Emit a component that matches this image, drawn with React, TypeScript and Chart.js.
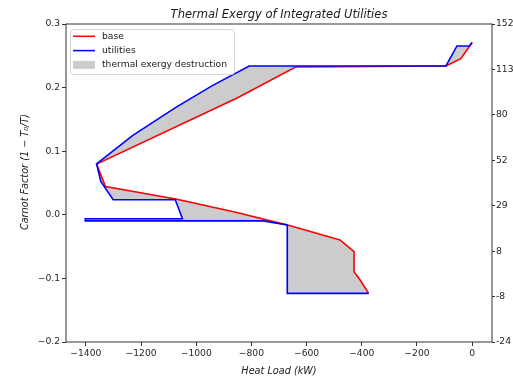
import React, { useEffect, useRef } from 'react';
import { Chart, registerables } from 'chart.js';

Chart.register(...registerables);

// ---- data ----
const TITLE = 'Thermal Exergy of Integrated Utilities';
const X_LABEL = 'Heat Load (kW)';
const Y_LABEL = 'Carnot Factor (1 − T₀/T)';
const legendLabels = ['base', 'utilities', 'thermal exergy destruction'];

const baseX = [0, -41, -95, -640, -850, -1361, -1329, -1074, -853, -672, -479, -428, -428, -406, -375];
const baseY = [0.271, 0.2456, 0.234, 0.2325, 0.184, 0.0797, 0.0446, 0.0248, 0.0036, -0.0158, -0.0394, -0.0579, -0.0894, -0.1025, -0.1235];

const utilX = [0, -10, -55, -95, -808, -940, -1074, -1231, -1361, -1346, -1301, -1076, -1050, -1402, -1402, -758, -670, -670, -375];
const utilY = [0.271, 0.2655, 0.2655, 0.234, 0.234, 0.2035, 0.169, 0.1246, 0.08, 0.0525, 0.0237, 0.0237, -0.0063, -0.0063, -0.0095, -0.0095, -0.0158, -0.1235, -0.1235];

const xTickValues = [-1400, -1200, -1000, -800, -600, -400, -200, 0];
const xTickLabels = ['−1400', '−1200', '−1000', '−800', '−600', '−400', '−200', '0'];
const yTickValues = [-0.2, -0.1, 0, 0.1, 0.2, 0.3];
const yTickLabels = ['−0.2', '−0.1', '0.0', '0.1', '0.2', '0.3'];
const rightTickLabels = ['-24', '-8', '8', '29', '52', '80', '113', '152'];

const X_MIN = -1472;
const X_MAX = 72;
const Y_MIN = -0.2;
const Y_MAX = 0.3;

const RED = '#ff0000';
const BLUE = '#0000ff';
const GREY = '#cccccc';
const FONT = '"DejaVu Sans", sans-serif';

const toPts = (xs: number[], ys: number[]) => xs.map((x, i) => ({ x, y: ys[i] }));

const decorPlugin = {
  id: 'decor',
  afterDraw(chart: any) {
    const { ctx, chartArea: a } = chart;
    ctx.save();
    // frame
    ctx.strokeStyle = '#333333';
    ctx.lineWidth = 1;
    ctx.strokeRect(a.left, a.top, a.right - a.left, a.bottom - a.top);

    const cx = (a.left + a.right) / 2;
    ctx.fillStyle = '#1a1a1a';
    ctx.textAlign = 'center';
    ctx.textBaseline = 'middle';
    ctx.font = `italic 11.5px ${FONT}`;
    ctx.fillText(TITLE, cx, a.top - 9);
    ctx.font = `italic 9.7px ${FONT}`;
    ctx.fillText(X_LABEL, cx, a.bottom + 29);
    ctx.save();
    ctx.translate(a.left - 41, (a.top + a.bottom) / 2 - 11);
    ctx.rotate(-Math.PI / 2);
    ctx.fillText(Y_LABEL, 0, 0);
    ctx.restore();

    // legend
    const lx = a.left + 4;
    const ly = a.top + 5;
    const lw = 164;
    const lh = 45;
    ctx.beginPath();
    if ((ctx as any).roundRect) (ctx as any).roundRect(lx + 0.5, ly + 0.5, lw, lh, 3);
    else ctx.rect(lx + 0.5, ly + 0.5, lw, lh);
    ctx.fillStyle = 'rgba(255,255,255,0.8)';
    ctx.fill();
    ctx.strokeStyle = '#d6d6d6';
    ctx.lineWidth = 1;
    ctx.stroke();

    const rows = [ly + 7.3, ly + 21.6, ly + 35.9];
    const hx0 = lx + 3;
    const hx1 = lx + 25;
    ctx.lineWidth = 1.5;
    ctx.strokeStyle = RED;
    ctx.beginPath();
    ctx.moveTo(hx0, rows[0]);
    ctx.lineTo(hx1, rows[0]);
    ctx.stroke();
    ctx.strokeStyle = BLUE;
    ctx.beginPath();
    ctx.moveTo(hx0, rows[1]);
    ctx.lineTo(hx1, rows[1]);
    ctx.stroke();
    ctx.fillStyle = GREY;
    ctx.fillRect(hx0, rows[2] - 4, hx1 - hx0, 8);

    ctx.fillStyle = '#1a1a1a';
    ctx.textAlign = 'left';
    ctx.textBaseline = 'middle';
    ctx.font = `9.2px ${FONT}`;
    legendLabels.forEach((t, i) => ctx.fillText(t, lx + 32, rows[i]));
    ctx.restore();
  },
};

export default function App() {
  const ref = useRef<HTMLCanvasElement | null>(null);

  useEffect(() => {
    if (!ref.current) return;
    Chart.defaults.font.family = FONT;
    const tickColor = '#262626';
    const fillPts = [...toPts(utilX, utilY), ...toPts(baseX, baseY).reverse()];
    const chart = new Chart(ref.current, {
      type: 'line',
      data: {
        datasets: [
          {
            label: 'utilities',
            data: toPts(utilX, utilY),
            borderColor: BLUE,
            borderWidth: 1.6,
            pointRadius: 0,
            fill: false,
            tension: 0,
          },
          {
            label: 'base',
            data: toPts(baseX, baseY),
            borderColor: RED,
            borderWidth: 1.6,
            pointRadius: 0,
            fill: false,
            tension: 0,
          },
          {
            label: 'thermal exergy destruction',
            data: fillPts,
            borderWidth: 0,
            borderColor: 'rgba(0,0,0,0)',
            backgroundColor: GREY,
            pointRadius: 0,
            fill: 'shape',
            tension: 0,
          },
        ],
      },
      options: {
        animation: false,
        responsive: false,
        devicePixelRatio: 1,
        layout: { padding: { top: 24, left: 0, right: 0, bottom: 0 } },
        plugins: { legend: { display: false }, tooltip: { enabled: false }, title: { display: false } },
        scales: {
          x: {
            type: 'linear',
            min: X_MIN,
            max: X_MAX,
            afterBuildTicks: (s: any) => {
              s.ticks = xTickValues.map((v) => ({ value: v }));
            },
            afterFit: (s: any) => {
              s.height = 39;
            },
            ticks: {
              color: tickColor,
              font: { size: 9.2, family: FONT },
              padding: 2,
              maxRotation: 0,
              autoSkip: false,
              callback: (_v: any, i: number) => xTickLabels[i],
            },
            grid: { drawOnChartArea: false, drawTicks: true, tickLength: 4, color: '#333333' },
            border: { display: false },
          },
          y: {
            type: 'linear',
            position: 'left',
            min: Y_MIN,
            max: Y_MAX,
            afterBuildTicks: (s: any) => {
              s.ticks = yTickValues.map((v) => ({ value: v }));
            },
            afterFit: (s: any) => {
              s.width = 66;
            },
            ticks: {
              color: tickColor,
              font: { size: 9.2, family: FONT },
              padding: 2,
              autoSkip: false,
              callback: (_v: any, i: number) => yTickLabels[i],
            },
            grid: { drawOnChartArea: false, drawTicks: true, tickLength: 4, color: '#333333' },
            border: { display: false },
          },
          y2: {
            type: 'linear',
            position: 'right',
            min: Y_MIN,
            max: Y_MAX,
            afterBuildTicks: (s: any) => {
              const n = rightTickLabels.length;
              s.ticks = rightTickLabels.map((_, i) => ({ value: Y_MIN + ((Y_MAX - Y_MIN) * i) / (n - 1) }));
            },
            afterFit: (s: any) => {
              s.width = 21;
            },
            ticks: {
              color: tickColor,
              font: { size: 9.2, family: FONT },
              padding: 1,
              autoSkip: false,
              callback: (_v: any, i: number) => rightTickLabels[i],
            },
            grid: { drawOnChartArea: false, drawTicks: true, tickLength: 3, color: '#333333' },
            border: { display: false },
          },
        },
      },
      plugins: [decorPlugin],
    } as any);
    return () => chart.destroy();
  }, []);

  return (
    <div style={{ position: 'absolute', left: 0, top: 0, width: 513, height: 381, background: '#ffffff' }}>
      <canvas ref={ref} width={513} height={381} style={{ display: 'block' }} />
    </div>
  );
}
